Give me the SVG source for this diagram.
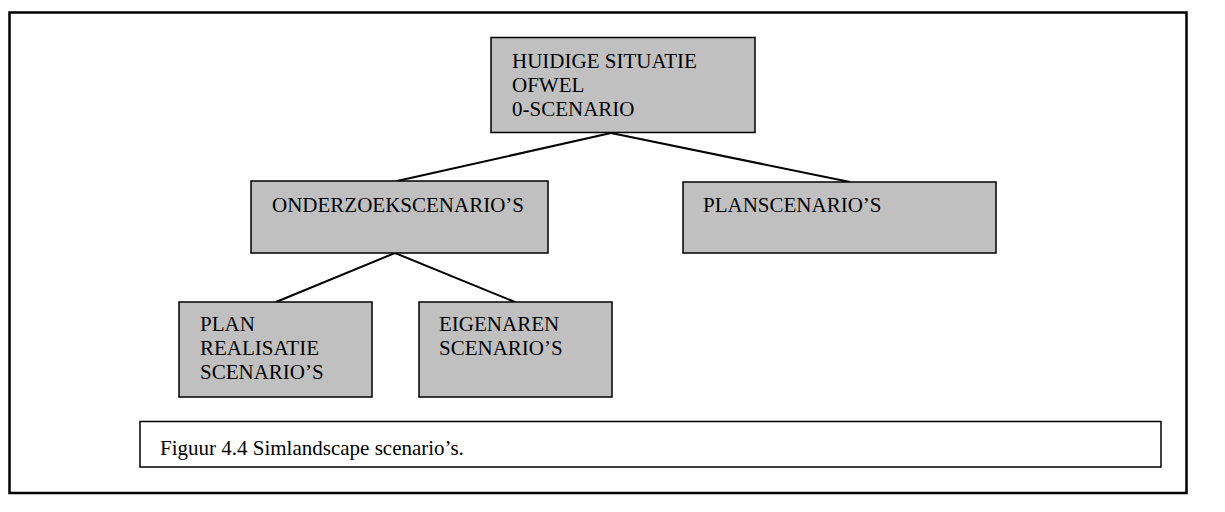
<svg xmlns="http://www.w3.org/2000/svg" width="1225" height="512" viewBox="0 0 1225 512">
  <style>
    .node rect { fill: #c0c0c0; stroke: #000; stroke-width: 1.5; }
    .label { font-family: "Liberation Serif", "Times New Roman", serif; font-size: 21px; fill: #000; }
    .edge { stroke: #000; stroke-width: 2; fill: none; }
  </style>
  <rect width="1225" height="512" fill="#fff"/>
  <!-- outer frame -->
  <rect x="9.5" y="12.5" width="1177" height="480.5" fill="none" stroke="#000" stroke-width="2.5"/>

  <g id="connectors">
    <line class="edge" x1="611" y1="133" x2="397" y2="181"/>
    <line class="edge" x1="611" y1="133" x2="850" y2="182"/>
    <line class="edge" x1="395" y1="253" x2="276" y2="302"/>
    <line class="edge" x1="395" y1="253" x2="515" y2="302"/>
  </g>

  <g id="huidige-situatie" class="node">
    <rect x="491" y="37.5" width="264" height="95"/>
    <text class="label" x="512" y="67.5">HUIDIGE SITUATIE</text>
    <text class="label" x="512" y="91.5">OFWEL</text>
    <text class="label" x="512" y="115.5">0-SCENARIO</text>
  </g>

  <g id="onderzoekscenarios" class="node">
    <rect x="251" y="181" width="297" height="72"/>
    <text class="label" x="272" y="211.5">ONDERZOEKSCENARIO’S</text>
  </g>

  <g id="planscenarios" class="node">
    <rect x="683" y="182" width="313" height="71"/>
    <text class="label" x="703" y="211.5">PLANSCENARIO’S</text>
  </g>

  <g id="planrealisatie" class="node">
    <rect x="179" y="302" width="193" height="95"/>
    <text class="label" x="200" y="331">PLAN</text>
    <text class="label" x="200" y="355">REALISATIE</text>
    <text class="label" x="200" y="379">SCENARIO’S</text>
  </g>

  <g id="eigenaren" class="node">
    <rect x="419" y="302" width="193" height="95"/>
    <text class="label" x="439" y="331">EIGENAREN</text>
    <text class="label" x="439" y="355">SCENARIO’S</text>
  </g>

  <g id="caption">
    <rect x="140" y="421.5" width="1021" height="45.5" fill="#fff" stroke="#000" stroke-width="1.5"/>
    <text class="label" x="160" y="455">Figuur 4.4 Simlandscape scenario’s.</text>
  </g>
</svg>
